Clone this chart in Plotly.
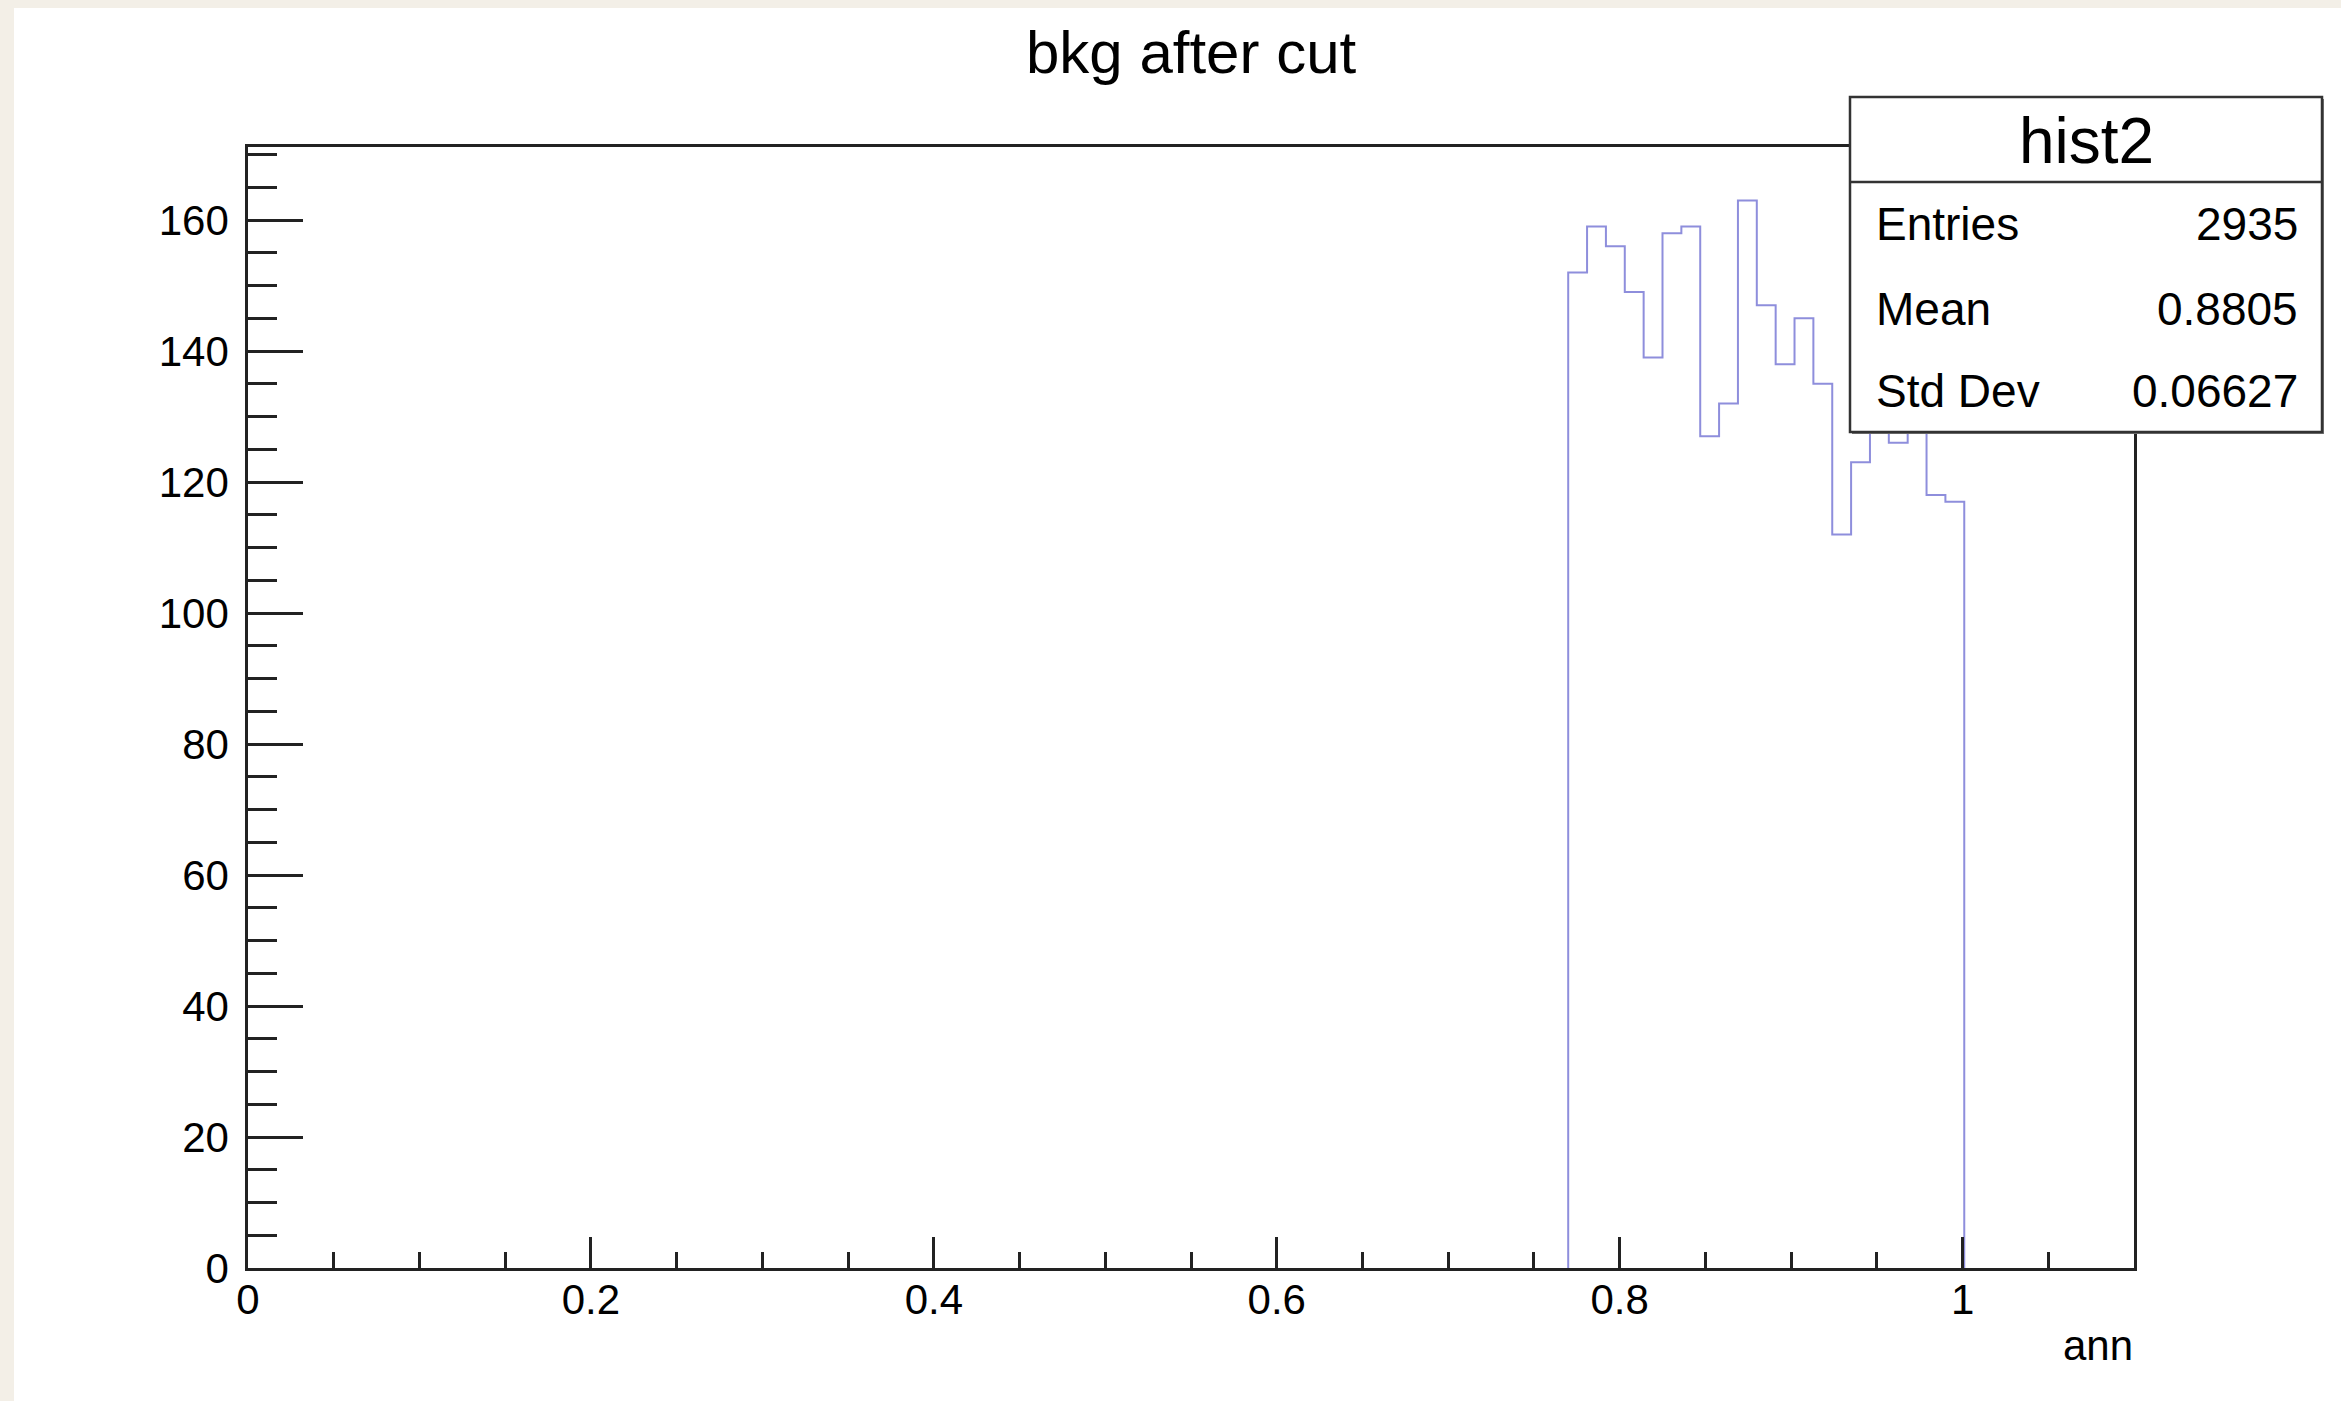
import plotly.graph_objects as go

# ---- data ----
bin_low = 0.77          # left edge of first filled bin
bin_width = 0.011       # 100 bins over [0, 1.1]
counts = [152, 159, 156, 149, 139, 158, 159, 127, 132, 163, 147,
          138, 145, 135, 112, 123, 137, 126, 143, 118, 117]

title_text = "bkg after cut"
x_title = "ann"
stats_name = "hist2"
stats_labels = ["Entries", "Mean", "Std Dev"]
stats_values = ["2935", "0.8805", "0.06627"]

x_range = [0, 1.1]
y_max = max(counts) * 1.05

# ---- build step outline ----
xs, ys = [bin_low], [0]
for i, c in enumerate(counts):
    xs += [bin_low + i * bin_width, bin_low + (i + 1) * bin_width]
    ys += [c, c]
xs.append(bin_low + len(counts) * bin_width)
ys.append(0)

W, H = 2341, 1401
L, R, T, B = 248, 207, 147, 133
pw, ph = W - L - R, H - T - B

def px(x):
    return (x - L) / pw

def py(y):
    return (H - B - y) / ph

FONT = "Liberation Sans, Arial, Helvetica, sans-serif"

fig = go.Figure()
fig.add_trace(go.Scatter(
    x=xs, y=ys, mode="lines",
    line=dict(color="#8e8edc", width=2),
    hoverinfo="skip", showlegend=False,
))

axis_common = dict(
    showline=True, linecolor="#222222", linewidth=2.5, mirror=True,
    showgrid=False, zeroline=False, ticks="inside", tickcolor="#222222",
    tickwidth=2.5, tickfont=dict(family=FONT, size=42, color="black"),
)

fig.update_layout(
    width=W, height=H,
    margin=dict(l=L, r=R, t=T, b=B, pad=0),
    paper_bgcolor="white", plot_bgcolor="white",
    xaxis=dict(range=x_range, tick0=0, dtick=0.2, ticklen=31,
               minor=dict(dtick=0.05, ticklen=16, ticks="inside",
                          tickcolor="#222222", tickwidth=2.5, showgrid=False),
               tickformat="~g", ticklabelstandoff=-7, **axis_common),
    yaxis=dict(range=[0, y_max], tick0=0, dtick=20, ticklen=55,
               minor=dict(dtick=5, ticklen=29, ticks="inside",
                          tickcolor="#222222", tickwidth=2.5, showgrid=False),
               ticklabelstandoff=8, **axis_common),
)

# beige frame strips (screenshot border)
fig.add_shape(type="rect", xref="paper", yref="paper",
              x0=px(0), x1=px(14), y0=py(H), y1=py(0),
              fillcolor="#f3efe7", line=dict(width=0), layer="below")
fig.add_shape(type="rect", xref="paper", yref="paper",
              x0=px(0), x1=px(W), y0=py(8), y1=py(0),
              fillcolor="#f3efe7", line=dict(width=0), layer="below")

# title
fig.add_annotation(text=title_text, xref="paper", yref="paper",
                   x=px(1191), y=py(52), xanchor="center", yanchor="middle",
                   showarrow=False, font=dict(family=FONT, size=60, color="black"))
# x-axis title
fig.add_annotation(text=x_title, xref="paper", yref="paper",
                   x=px(2135), y=py(1346), xanchor="right", yanchor="middle",
                   showarrow=False, font=dict(family=FONT, size=42, color="black"))

# stats box
bx0, bx1, by0, by1, bsep = 1850, 2322, 97, 432, 182
fig.add_shape(type="rect", xref="paper", yref="paper",
              x0=px(bx0 + 2), x1=px(bx1 + 2), y0=py(by1 + 2), y1=py(by0 + 2),
              fillcolor="#777777", line=dict(width=0), layer="above")
fig.add_shape(type="rect", xref="paper", yref="paper",
              x0=px(bx0), x1=px(bx1), y0=py(by1), y1=py(by0),
              fillcolor="white", line=dict(color="#333333", width=2.5), layer="above")
fig.add_shape(type="line", xref="paper", yref="paper",
              x0=px(bx0), x1=px(bx1), y0=py(bsep), y1=py(bsep),
              line=dict(color="#333333", width=2.5), layer="above")
fig.add_annotation(text=stats_name, xref="paper", yref="paper",
                   x=px((bx0 + bx1) / 2), y=py(141), xanchor="center", yanchor="middle",
                   showarrow=False, font=dict(family=FONT, size=64, color="black"))
row_y = [224, 309, 391]
for lab, val, yy in zip(stats_labels, stats_values, row_y):
    fig.add_annotation(text=lab, xref="paper", yref="paper",
                       x=px(1874), y=py(yy), xanchor="left", yanchor="middle",
                       showarrow=False, font=dict(family=FONT, size=46, color="black"))
    fig.add_annotation(text=val, xref="paper", yref="paper",
                       x=px(2300), y=py(yy), xanchor="right", yanchor="middle",
                       showarrow=False, font=dict(family=FONT, size=46, color="black"))

fig.write_html("out.html")
